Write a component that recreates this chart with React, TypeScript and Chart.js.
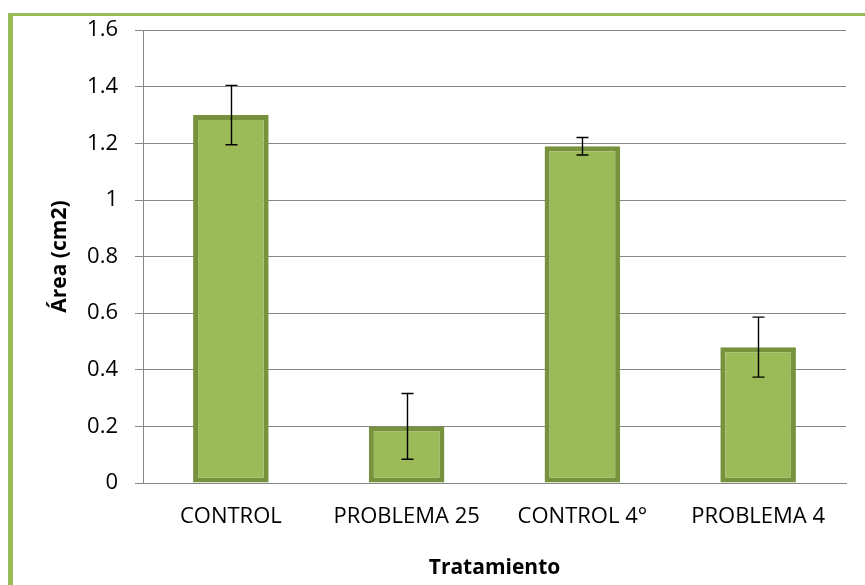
import React, { useEffect, useRef } from "react";
import { Chart, registerables } from "chart.js";

Chart.register(...registerables);

const categories = ["CONTROL", "PROBLEMA 25", "CONTROL 4°", "PROBLEMA 4"];
const values = [1.3, 0.2, 1.19, 0.48];
const errors = [0.105, 0.116, 0.031, 0.106];
const yTickLabels = ["0", "0.2", "0.4", "0.6", "0.8", "1", "1.2", "1.4", "1.6"];

const FONT = "'Open Sans', sans-serif";

const errorBarPlugin = {
  id: "errorBars",
  afterDatasetsDraw(chart: any) {
    const meta = chart.getDatasetMeta(0);
    const yScale = chart.scales.y;
    const ctx = chart.ctx;
    ctx.save();
    ctx.strokeStyle = "#000000";
    ctx.lineWidth = 1.4;
    meta.data.forEach((bar: any, i: number) => {
      const x = Math.round(bar.x) + 0.5;
      const yHi = yScale.getPixelForValue(values[i] + errors[i]);
      const yLo = yScale.getPixelForValue(values[i] - errors[i]);
      ctx.beginPath();
      ctx.moveTo(x, yHi);
      ctx.lineTo(x, yLo);
      ctx.moveTo(x - 6, yHi);
      ctx.lineTo(x + 6, yHi);
      ctx.moveTo(x - 6, yLo);
      ctx.lineTo(x + 6, yLo);
      ctx.stroke();
    });
    ctx.restore();
  },
};

export default function App() {
  const ref = useRef<HTMLCanvasElement | null>(null);

  useEffect(() => {
    if (!ref.current) return;
    const chart = new Chart(ref.current, {
      type: "bar",
      data: {
        labels: categories,
        datasets: [
          {
            data: values,
            backgroundColor: "#9bbb59",
            borderColor: "#76923c",
            borderWidth: 5,
            borderSkipped: false,
            barPercentage: 0.43,
            categoryPercentage: 1,
          },
        ],
      },
      options: {
        responsive: false,
        animation: false,
        layout: { padding: { left: 43, top: 29, right: 19, bottom: 0 } },
        plugins: {
          legend: { display: false },
          tooltip: { enabled: false },
        },
        scales: {
          x: {
            afterFit: (s: any) => {
              s.height = 102;
            },
            grid: { display: false, drawTicks: false },
            border: { display: true, color: "#868686", width: 1 },
            ticks: {
              color: "#000000",
              padding: 21,
              font: { family: FONT, size: 22 },
              maxRotation: 0,
              autoSkip: false,
            },
            title: {
              display: true,
              text: "Tratamiento",
              color: "#000000",
              font: { family: FONT, size: 21, weight: "bold" },
              padding: { top: 4, bottom: 4 },
            },
          },
          y: {
            min: 0,
            max: 1.6,
            afterFit: (s: any) => {
              s.width = 100;
            },
            grid: { color: "#868686", lineWidth: 1, tickLength: 8, drawTicks: true },
            border: { display: true, color: "#868686", width: 1 },
            ticks: {
              stepSize: 0.2,
              color: "#000000",
              padding: 17,
              font: { family: FONT, size: 22 },
              callback: (_v: any, i: number) => yTickLabels[i],
            },
            title: {
              display: true,
              text: "Área (cm2)",
              color: "#000000",
              font: { family: FONT, size: 21, weight: "bold" },
              padding: { top: 4, bottom: 4 },
            },
          },
        },
      },
      plugins: [errorBarPlugin],
    });
    return () => chart.destroy();
  }, []);

  return (
    <div
      style={{
        position: "fixed",
        left: 0,
        top: 0,
        width: 865,
        height: 585,
        overflow: "hidden",
        background: "#ffffff",
      }}
    >
      <div
        style={{
          position: "absolute",
          left: 8,
          top: 13,
          width: 2000,
          height: 2000,
          borderLeft: "5px solid #9bbb59",
          borderTop: "3px solid #9bbb59",
        }}
      />
      <canvas
        ref={ref}
        width={865}
        height={585}
        style={{ position: "absolute", left: 0, top: 0, display: "block" }}
      />
    </div>
  );
}
